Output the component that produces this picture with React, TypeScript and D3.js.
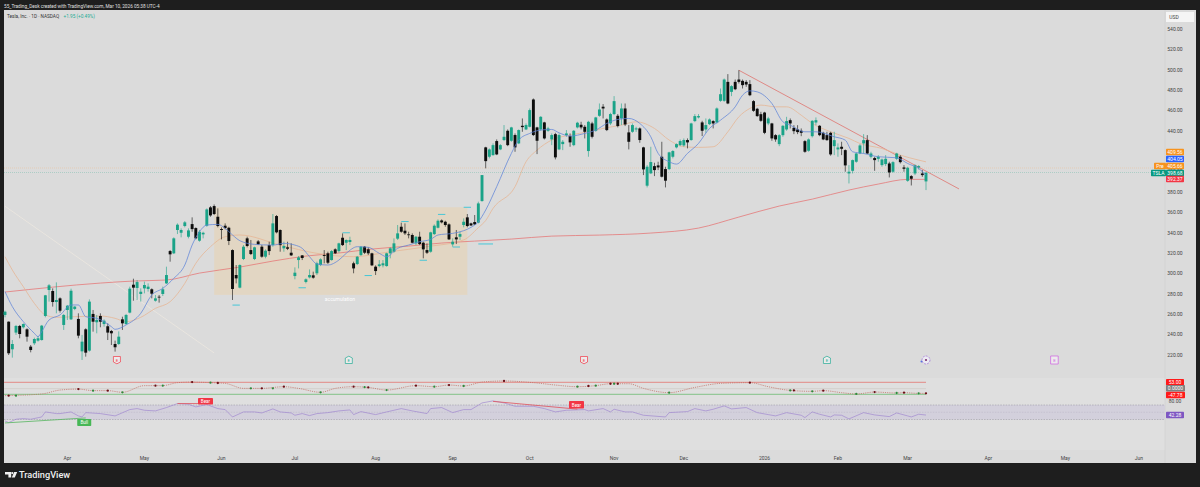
import * as d3 from "d3";

const opens = [
  259.3, 252.7, 225.6, 242, 248.5, 247.2, 245.2, 228.2, 231.5, 234.1,
  234.7, 258.3, 283.8, 282.8, 272, 275.6, 249.5, 264.2, 255, 265.2,
  255.4, 223.6, 245.2, 224.3, 260.3, 252.1, 258.3, 250.4, 248.2, 243.6,
  230.8, 230.8, 255, 250.4, 261.6, 289, 285.8, 279.9, 285.4, 284.8,
  284.5, 273.3, 277.2, 279.9, 290.3, 322, 319.8, 342.7, 340, 346.6,
  336.1, 348.5, 344.6, 332.2, 338.4, 346.9, 364.9, 366.2, 355.7, 343.6,
  346.9, 344.9, 323, 298.5, 286.1, 314.2, 334.5, 323, 314.2, 331.5,
  326.3, 316.5, 327.9, 327.9, 356.4, 342.7, 324.7, 325.7, 320.4, 297.5,
  313.2, 317.8, 291.7, 296.2, 298.2, 300.2, 308.3, 318.1, 319.8, 313.2,
  323.7, 322, 335.1, 330.2, 330.9, 310, 309.3, 318.1, 326.3, 323.7,
  319.8, 306.7, 307.3, 308, 307.3, 319.8, 321.4, 334.2, 345.9, 342,
  338.4, 337.8, 329.6, 336.1, 330.2, 323, 321.4, 338.7, 344.9, 352.1,
  350.8, 348.2, 328.6, 335.5, 336.1, 347.6, 355.1, 349.2, 350.5, 349.9,
  371.1, 423.8, 414.6, 416.2, 430, 421.8, 431, 440.1, 430.3, 435.9,
  427.7, 445, 441.4, 444, 470.8, 443.4, 441.4, 448.3, 440.1, 431.6,
  436.8, 421.8, 427, 435.9, 434.9, 426, 443.4, 446, 444, 420.2,
  447.3, 440.1, 454.8, 463.7, 451.2, 447.3, 456.5, 454.8, 452.2, 462,
  438.5, 439.1, 441.4, 442.4, 423.8, 386.2, 398.3, 405.4, 406.1, 414.6,
  402.5, 402.5, 414.6, 423.8, 426, 425.7, 431, 431, 449.6, 453.2,
  448.3, 441.4, 446.6, 449.6, 448.2, 469.5, 469.5, 488.1, 478.3, 488.1,
  490.4, 489.1, 488.1, 485.9, 469.2, 461.7, 456.4, 458, 447.3, 447.3,
  435.8, 427, 435.8, 441.4, 450.5, 443, 441.4, 440.1, 429.9, 420.5,
  434.8, 448.2, 445, 438.1, 435.8, 438.1, 425, 421.8, 424.4, 421.1,
  398.2, 400.8, 409.7, 417.8, 427.7, 430.9, 414.6, 413.3, 412.6, 406.4,
  407.4, 408, 399.9, 412.6, 414.6, 404.1, 391, 395.6, 398.2, 404.1, 398.2, 390.4,
];
const closes = [
  262.5, 221.7, 230.8, 248.5, 240.6, 250.4, 238, 224.9, 235.7, 236.4,
  248.8, 278.6, 288.4, 272, 274, 263.5, 259.3, 268.4, 283.1, 267.5,
  239, 233.1, 222.3, 272.4, 252.7, 254.4, 252.7, 253.7, 242, 241.3,
  227.6, 238, 251.1, 259.3, 285.1, 286.1, 291.6, 282.1, 288.7, 287.1,
  280.2, 275.6, 276.6, 284.5, 298.5, 318.8, 334.5, 347.9, 342.7, 350.2,
  342.3, 343.6, 334.5, 341, 340, 362.9, 357, 358.4, 346.6, 342.7,
  344.6, 331.9, 284.8, 295.2, 308.3, 326.3, 327, 319.1, 325.7, 328.6,
  316.5, 322.4, 322, 349.2, 340.4, 327.9, 327, 324.3, 317.8, 300.8,
  315.8, 315.2, 294.3, 298.5, 295.9, 310, 313.9, 317.2, 310.6, 322,
  319.8, 329.6, 327.9, 332.9, 332.9, 305, 316.5, 326.3, 320.4, 319.8,
  308, 302.4, 309, 310, 319.8, 324.7, 329.6, 339.4, 341, 339.4,
  337.8, 330.2, 336.1, 328.9, 323.7, 320.4, 340.4, 346.9, 351.8, 350.2,
  347.6, 333.5, 331.2, 333.5, 338.7, 350.8, 346.6, 347.2, 348.2, 368.8,
  396.6, 410.3, 421.8, 426, 416.9, 426, 434.2, 426, 443.4, 423.8,
  440.8, 443.7, 445.7, 460.4, 435.9, 430.3, 453.8, 432.6, 442.4, 435.9,
  414, 435.9, 429.3, 437.5, 428.7, 440.1, 448, 443.4, 439.1, 448.9,
  434.2, 453.2, 461, 462, 440.8, 456.5, 469.2, 444.7, 462, 446.3,
  429.3, 445.7, 442.4, 431, 402.2, 404.8, 409.4, 401.5, 404.1, 395,
  391.1, 418.9, 420.2, 427, 430, 431, 428.7, 447.3, 454.5, 454.5,
  440.1, 445.7, 451.2, 447.3, 462, 476, 490.4, 466.9, 483.9, 480.9,
  488.1, 484.9, 485.5, 475, 459.7, 454.5, 449.9, 438.1, 452.2, 432.6,
  431.6, 435.8, 445, 449.6, 447.3, 439.7, 438.8, 438.1, 419.5, 431.6,
  449.9, 450.5, 435.8, 431.6, 430.9, 416.9, 430.9, 423.7, 422.4, 406.1,
  399.9, 411.3, 417.8, 425.7, 430.9, 417.8, 417.8, 411.3, 414.6, 411.9,
  412.6, 399.2, 409.3, 417.8, 409.3, 402.8, 403.8, 393, 406.1, 405.4, 396.6, 398.9,
];
const highs = [
  263.5, 253, 234.7, 249.5, 249.5, 251, 246.2, 229.8, 237, 238.7,
  249.5, 279, 289.7, 285.4, 291.3, 276.6, 260.3, 269.1, 285.1, 268,
  260.9, 239.7, 246.2, 274.6, 264.2, 259.3, 260.9, 255, 251.1, 244.6,
  234.1, 243.2, 257.6, 260.3, 287.1, 294.9, 293.6, 285.4, 292, 290.3,
  285.4, 278.9, 278.9, 287.1, 306.7, 323, 335.5, 349.2, 344.3, 351.5,
  344.3, 355.1, 345.3, 342.7, 341, 363.9, 366.2, 367.8, 363.9, 345.3,
  349.2, 345.9, 323.7, 308.3, 309, 327.9, 336.1, 332.9, 326.3, 332.9,
  327.9, 323.7, 331.2, 358.4, 357.4, 343.3, 331.2, 331.2, 329.6, 306,
  317.2, 318.1, 295.2, 304, 301.8, 311.6, 314.9, 323, 321.4, 323,
  324.7, 330.2, 339.4, 333.5, 336.1, 311.6, 317.2, 327, 327, 325.7,
  320.4, 308, 313.2, 313.2, 320.4, 325.7, 334.5, 347.6, 349.9, 349.2,
  341, 339.4, 336.8, 341, 331.2, 329.6, 341, 348.2, 353.1, 353.1,
  351.8, 349.2, 334.5, 342.7, 341, 354.1, 358.4, 349.9, 357.4, 370.5,
  396.6, 424.4, 422.8, 427.7, 431.6, 427, 445.7, 441.4, 444, 437.5,
  441.4, 452.2, 447.3, 462, 471.8, 444, 454.5, 448.9, 444, 437.5,
  438.1, 437.5, 431, 440.8, 437.5, 440.8, 448.9, 448.9, 445.7, 449.9,
  448.9, 453.8, 466.9, 466.3, 452.2, 457.8, 474.1, 456.5, 466.9, 466.9,
  445.7, 447.3, 444, 443.4, 424.4, 406.4, 424.4, 408.7, 409.7, 429.3,
  404.8, 419.5, 421.1, 427.7, 431.6, 432.6, 432.6, 448, 456.5, 456.5,
  449.9, 452.2, 452.2, 450.5, 463, 481.6, 491.4, 495.7, 484.9, 490.4,
  499.6, 490.4, 489.8, 489.8, 470.2, 462.6, 458.7, 458.7, 453.8, 447.9,
  436.8, 436.8, 445.6, 453.8, 452.2, 445.6, 445.6, 442.4, 430.9, 432.6,
  450.5, 453.2, 445.6, 439.1, 439.1, 439.1, 439.1, 427.7, 429.3, 421.8,
  406.4, 411.9, 418.5, 427, 436.8, 435.8, 419.5, 414.6, 416.2, 412.9,
  416.2, 409.7, 410.3, 418.5, 416.2, 406.4, 404.8, 396.6, 407.1, 406.4, 401.5, 399.5,
];
const lows = [
  257, 220, 217.4, 239.7, 236.4, 246, 233.1, 222.6, 229.8, 233.1,
  234.1, 257, 272.4, 267.5, 260.9, 261.6, 244.6, 254.4, 254.4, 264,
  236.4, 215.1, 218.4, 223.3, 242.9, 241.3, 247.2, 247.8, 234.7, 229.8,
  223.3, 229.8, 244.6, 249.5, 260.9, 273.3, 274, 272.4, 280.5, 282.2,
  275.6, 272.4, 271.4, 277.9, 289.7, 311.6, 319.1, 338.7, 335.5, 345.3,
  334.5, 341, 333.5, 331.2, 334.5, 345.9, 355.7, 357.4, 345.3, 333.5,
  343.3, 327.9, 274, 290.3, 285.4, 313.2, 325.7, 318.1, 313.2, 327.9,
  315.5, 314.9, 318.1, 326.3, 339.4, 321.4, 321.4, 323, 317.2, 294.3,
  305, 313.2, 290.3, 295.2, 294.9, 298.5, 307.3, 310, 309.3, 312.6,
  319.1, 320.4, 327, 323, 327.9, 300.2, 308.3, 317.2, 319.1, 318.1,
  307.3, 298.5, 306, 306, 306.7, 314.9, 320.4, 332.9, 340, 337.8,
  334.5, 329.6, 327.9, 327.9, 314.9, 319.1, 320.4, 337.8, 344.3, 349.2,
  345.9, 332.9, 326.3, 328.9, 332.9, 345.3, 345.3, 346.6, 347.6, 349.2,
  370.5, 403.2, 413, 415.6, 416.2, 421.1, 430, 425, 429.3, 419.5,
  427, 439.1, 440.8, 443.4, 434.9, 417.2, 440.1, 431.6, 439.1, 426,
  412, 421.1, 421.1, 434.2, 424.4, 425, 442.4, 441.4, 432.6, 414.6,
  432.6, 439.1, 453.8, 452.2, 439.8, 445.7, 455.5, 443.4, 445.7, 444.7,
  421.8, 438.1, 439, 428.3, 396.6, 384.5, 397.6, 395.6, 401.5, 394.3,
  384.5, 401.5, 413, 422.8, 425, 424.4, 422.8, 430.3, 448.6, 452.2,
  434.9, 438.1, 445.7, 442.4, 447.3, 468.5, 468.5, 466.2, 474.1, 480,
  486.5, 481.6, 483.2, 474.1, 458.7, 453.8, 448.9, 436.8, 445.6, 430.3,
  429.3, 425, 434.2, 440.1, 442.4, 436.8, 436.8, 434.8, 418.5, 419.5,
  433.5, 445.6, 434.8, 430.9, 430.3, 415.6, 416.2, 414.6, 416.2, 399.9,
  388.4, 398.2, 408.7, 417.2, 417.8, 417.2, 412.9, 400.8, 409.7, 404.8,
  405.4, 394.3, 398.9, 411.3, 408, 399.9, 390, 386.4, 396.6, 402.1, 394.9, 381.9,
];

// [bar index, value]
const fastEma = [
  [0, 282.2], [2, 267.5], [5, 252.7], [8, 241.3], [9, 238], [10, 242.9], [12, 254.4], [15, 259.3], [18, 269.1], [20, 269.1],
  [22, 257.6], [25, 256], [27, 252.7], [29, 247.8], [30, 245.2], [33, 249.5], [37, 260.9], [40, 278.9], [43, 285.4], [46, 295.2],
  [49, 308.3], [51, 327.9], [53, 341], [55, 347.6], [58, 348.2], [60, 344.3], [62, 337.8], [64, 332.2], [68, 328.6], [73, 327.9],
  [76, 329.6], [79, 327.9], [81, 324.7], [83, 316.5], [85, 309.3], [88, 308.3], [91, 313.2], [93, 319.8], [96, 326.3], [99, 325.7],
  [102, 319.8], [104, 316.5], [107, 324.7], [110, 327.9], [113, 331.2], [116, 333.5], [118, 337.8], [122, 339.4], [125, 342], [127, 345.3],
  [129, 350.8], [131, 362.3], [134, 385.2], [138, 417.9], [140, 431], [143, 437.5], [146, 440.8], [149, 441.4], [151, 438.1], [154, 434.9],
  [158, 437.5], [161, 440.8], [164, 447.3], [167, 451.2], [170, 452.2], [173, 447.3], [176, 434.2], [178, 417.9], [181, 409.7], [183, 407.4],
  [186, 417.9], [189, 427.7], [192, 442.4], [195, 450.5], [199, 463.6], [201, 475], [203, 479.3], [205, 478.3], [209, 466.9], [212, 448.9],
  [214, 445.6], [218, 439.1], [221, 439.1], [226, 434.2], [229, 430.9], [231, 419.5], [234, 417.8], [238, 414.6], [243, 413.6], [246, 408],
  [249, 403.1], [251, 396.6],
];
const midEma = [
  [0, 316.5], [2, 303.4], [5, 287], [8, 270.7], [11, 259.3], [14, 257], [19, 257.6], [26, 258.3], [30, 256], [33, 252.7],
  [37, 257], [41, 265.8], [45, 272.3], [49, 290.3], [52, 310], [56, 326.3], [60, 336.1], [64, 337.8], [75, 327.9], [85, 319.8],
  [95, 316.5], [105, 321.4], [115, 326.3], [125, 333], [129, 345], [131, 352], [133, 363.9], [139, 385.2], [142, 409.7], [145, 421.1],
  [149, 431], [154, 435.9], [159, 439.1], [163, 442.4], [168, 445.7], [172, 448.9], [177, 442.4], [181, 431], [185, 424.4], [189, 423.8],
  [193, 424.4], [197, 439.1], [200, 453.8], [203, 462], [206, 465.3], [210, 463.6], [213, 463.6], [217, 455.4], [220, 447.3], [225, 439.1],
  [230, 432.6], [233, 427.6], [239, 422.7], [244, 416.2], [249, 411.3], [251, 409.6],
];
const slowMa = [
  [0, 281.8], [26, 290.6], [35, 292.6], [44, 293.6], [53, 300.4], [64, 306.3], [73, 312.2], [82, 317.1], [91, 320.1], [100, 324],
  [110, 326.9], [119, 329.9], [128, 331.8], [138, 333.8], [149, 336.7], [162, 337.7], [176, 339.7], [189, 344.6], [200, 355.4], [211, 366.2],
  [220, 373], [230, 381.9], [238, 387.8], [246, 392.4], [251, 392.4],
];

const oscValues = [
  [0, -59], [10, -45], [15, -12], [20, -4], [24, -17], [28, -17], [32, -31], [38, 25], [43, 25], [47, 50],
  [51, 55], [56, 50], [60, 44], [65, 2], [70, 2], [76, 16], [80, 2], [86, -31], [90, 2], [95, 16],
  [99, 10], [104, -12], [112, 25], [117, 16], [121, 30], [125, 22], [130, 55], [136, 64], [144, 50], [150, 30],
  [156, 16], [161, 25], [165, 41], [170, 41], [174, 2], [181, -34], [188, 10], [195, 44], [203, 50], [208, 16],
  [214, -15], [220, -23], [223, -17], [228, -34], [232, -45], [237, -29], [243, -37], [245, -34], [249, -40], [251, -40],
];
const oscRedDots = [
  [1, -59], [20, -4], [28, -17], [41, 25], [51, 55], [58, 47], [70, 2], [76, 16], [95, 16], [99, 10],
  [112, 25], [121, 30], [136, 64], [159, 22], [165, 41], [167, 41], [203, 50], [215, -15], [223, -17], [237, -29], [245, -34], [251, -40],
];
const oscGreenDots = [
  [3, -59], [24, -17], [32, -31], [43, 25], [56, 50], [67, 2], [73, 2], [86, -31], [98, 12], [104, -12],
  [117, 16], [125, 22], [156, 16], [161, 25], [166, 41], [181, -34], [214, -15], [220, -23], [232, -45], [243, -37], [249, -40],
];

const rsiValues = [
  [0, 26], [1, 21.5], [3, 30.7], [5, 32.5], [7, 30.7], [10, 37], [11, 50.9], [14, 46.3], [15, 46.3], [18, 50.9],
  [20, 39.9], [21, 37], [22, 49], [26, 46.3], [30, 39.9], [34, 57.3], [36, 60.1], [38, 55.5], [41, 53.7], [44, 62.9],
  [47, 73.9], [50, 72], [52, 64.7], [55, 71.1], [58, 60.1], [60, 57.3], [62, 37], [65, 50.9], [68, 50.9], [70, 48.1],
  [73, 59.2], [75, 50.9], [78, 48.1], [79, 41.7], [81, 46.3], [83, 40.8], [85, 46.3], [88, 49], [91, 53.7], [94, 56.4],
  [95, 43.5], [97, 51.8], [101, 43.5], [104, 50.9], [108, 60.1], [111, 53.7], [115, 46.3], [116, 60.1], [119, 62.9], [122, 49],
  [125, 57.3], [127, 57.3], [130, 75.7], [133, 81.3], [136, 75.7], [139, 66.5], [144, 66.5], [147, 60.1], [150, 50.9], [153, 55.5],
  [158, 57.3], [159, 53.7], [163, 60.1], [165, 50.9], [166, 58.3], [169, 50.9], [171, 50.9], [174, 41.7], [180, 37], [181, 49],
  [186, 51.8], [188, 60.1], [191, 53.7], [193, 58.3], [196, 67.5], [198, 59.2], [202, 62.9], [205, 49], [208, 43.5], [210, 39.9],
  [213, 49], [217, 41.7], [218, 35.3], [220, 50.9], [222, 44.5], [225, 37.1], [226, 42.6], [228, 41.7], [230, 31.6], [234, 49],
  [237, 42.6], [241, 38], [243, 48.1], [246, 39.9], [247, 37.1], [249, 44.5], [251, 42.28],
];
const bullDivergence = [[0, 20.5], [22, 34.3]];
const bearDivergences = [
  [[47, 74], [53, 74]],
  [[133, 80], [156, 58.5]],
];

const priceTicks = d3.range(220, 541, 20);
const timeLabels = ["Apr", "May", "Jun", "Jul", "Aug", "Sep", "Oct", "Nov", "Dec", "2026", "Feb", "Mar", "Apr", "May", "Jun"];
const timeBars = [17, 38, 59, 79, 101, 122, 143, 166, 185, 207, 227, 246, 268, 289, 309];

const accumulationBox = { from: 57, to: 126, top: 365, bottom: 279 };
const downTrend = [[200, 499.5], [260, 383]];
const fadedTrend = [[0, 366], [57, 222]];

// swing markers: start bar, end bar, price
const swingMarks = [
  [62, 64, 269], [80, 82, 286], [92, 94, 340], [98, 100, 298], [108, 110, 351], [113, 115, 313],
  [118, 120, 358], [122, 124, 326], [125, 127, 365], [129, 133, 329],
];

const events = [
  { bar: 30.5, letter: "E", color: "#f23645", kind: "down" },
  { bar: 93.7, letter: "E", color: "#22ab94", kind: "up" },
  { bar: 157.8, letter: "E", color: "#f23645", kind: "down" },
  { bar: 224, letter: "E", color: "#22ab94", kind: "up" },
  { bar: 286, letter: "E", color: "#d05ce3", kind: "square" },
];

const priceTags = [
  { value: "409.56", y: 152, color: "#f7931e" },
  { value: "404.05", y: 159, color: "#2962ff" },
  { value: "405.66", y: 166, color: "#f7931e" },
  { value: "398.68", y: 173, color: "#089981" },
  { value: "392.37", y: 179, color: "#f23645" },
];

const FONT = "Roboto, 'Liberation Sans', sans-serif";
const UP = "#1aa388";
const DOWN = "#0d0d0d";

const x = d3.scaleLinear().domain([0, 251]).range([5, 926]);
const y = d3.scaleLinear().domain([220, 540]).range([355, 29]);
const oscY = d3.scaleLinear().domain([-47.78, 53]).range([394.3, 382.3]);
const rsiY = d3.scaleLinear().domain([30, 70]).range([419.5, 405]);

const lineOf = (scale: (v: number) => number) =>
  d3.line<number[]>().x((d) => x(d[0])).y((d) => scale(d[1])).curve(d3.curveMonotoneX);

const Tag = ({ tagY, text, fill, x0 = 1166, w = 18 }: any) => (
  <g>
    <rect x={x0} y={tagY - 3.2} width={w} height={6.4} rx={0.8} fill={fill} />
    <text x={x0 + w / 2} y={tagY + 1.8} fontSize={5} fill="#fff" textAnchor="middle">{text}</text>
  </g>
);

export default function App() {
  const priceLine = lineOf(y);
  const rsiLine = d3.line<number[]>().x((d) => x(d[0])).y((d) => rsiY(d[1]));
  return (
    <svg width={1200} height={487} viewBox="0 0 1200 487" fontFamily={FONT} style={{ position: "fixed", left: 0, top: 0 }}>
      <rect width={1200} height={487} fill="#1e1e1e" />
      <text x={4} y={7.5} fontSize={4.7} fill="#e0e0e0">55_Trading_Desk created with TradingView.com, Mar 10, 2026 05:38 UTC-4</text>
      <rect x={4} y={10} width={1192} height={453} fill="#dbdbdb" />

      {/* panes */}
      <rect x={4} y={378} width={1161} height={22} fill="#dfdfdf" />
      <rect x={4} y={400} width={1161} height={50} fill="#dfdfdf" />
      <line x1={1165} x2={1165} y1={10} y2={463} stroke="#d2d2d2" strokeWidth={0.6} />

      {/* text legend */}
      <text x={7} y={18} fontSize={4.7} fill="#333">Tesla, Inc. · 1D · NASDAQ</text>
      <text x={63.5} y={18} fontSize={4.7} fill="#22ab94">+1.95 (+0.49%)</text>

      {/* price levels */}
      <line x1={4} x2={1165} y1={168} y2={168} stroke="#e8b98c" strokeWidth={0.5} strokeDasharray="1 1" />
      <line x1={4} x2={1165} y1={172.5} y2={172.5} stroke="#7fbfb0" strokeWidth={0.5} strokeDasharray="1 1" />

      {/* accumulation box */}
      <rect
        x={x(accumulationBox.from)}
        y={y(accumulationBox.top)}
        width={x(accumulationBox.to) - x(accumulationBox.from)}
        height={y(accumulationBox.bottom) - y(accumulationBox.top)}
        fill="#e2d6c3"
      />
      <text x={340} y={300.5} fontSize={5} fill="#fff" textAnchor="middle">accumulation</text>

      {/* trend lines */}
      <path d={d3.line()(fadedTrend.map((d) => [x(d[0]), y(d[1])]) as any) ?? ""} stroke="#ece7e0" strokeWidth={0.8} fill="none" />
      <path d={d3.line()(downTrend.map((d) => [x(d[0]), y(d[1])]) as any) ?? ""} stroke="#e0736f" strokeWidth={0.8} fill="none" />

      {/* moving averages behind candles */}
      <path d={priceLine(slowMa as any) ?? ""} fill="none" stroke="#e57373" strokeWidth={0.75} />
      <path d={priceLine(midEma as any) ?? ""} fill="none" stroke="#e6b696" strokeWidth={0.8} />

      {/* candles */}
      {opens.map((o, i) => {
        const c = closes[i];
        const color = c >= o ? UP : DOWN;
        const top = y(Math.max(o, c));
        const bottom = y(Math.min(o, c));
        return (
          <g key={i}>
            <line x1={x(i)} x2={x(i)} y1={y(highs[i])} y2={y(lows[i])} stroke={color} strokeWidth={0.6} />
            <rect x={x(i) - 1.45} y={top} width={2.9} height={Math.max(bottom - top, 0.8)} fill={color} />
          </g>
        );
      })}
      <path d={priceLine(fastEma as any) ?? ""} fill="none" stroke="#5f84d8" strokeWidth={0.75} />

      {/* swing markers */}
      {swingMarks.map((m, i) => (
        <line key={i} x1={x(m[0])} x2={x(m[1])} y1={y(m[2])} y2={y(m[2])} stroke="#35c4d8" strokeWidth={0.9} />
      ))}

      {/* event badges */}
      {events.map((e, i) => {
        const cx = x(e.bar);
        const pts =
          e.kind === "down"
            ? `${cx - 3.5},356.5 ${cx + 3.5},356.5 ${cx + 3.5},362 ${cx},363.8 ${cx - 3.5},362`
            : e.kind === "up"
            ? `${cx - 3.5},363.5 ${cx + 3.5},363.5 ${cx + 3.5},358 ${cx},356.2 ${cx - 3.5},358`
            : `${cx - 3.8},356 ${cx + 3.8},356 ${cx + 3.8},364 ${cx - 3.8},364`;
        return (
          <g key={i}>
            <polygon points={pts} fill="#ecebec" stroke={e.color} strokeWidth={0.7} strokeLinejoin="round" />
            <text x={cx} y={361.8} fontSize={4.4} fill={e.color} textAnchor="middle">{e.letter}</text>
          </g>
        );
      })}
      <circle cx={x(251)} cy={360} r={4} fill="#ecebf2" stroke="#9c6fd6" strokeWidth={0.7} strokeDasharray="2 1" />
      <circle cx={x(251)} cy={360} r={1.1} fill="#7a2f6f" />
      <circle cx={x(251) - 4.5} cy={361.5} r={1} fill="#5a6fe0" />

      {/* oscillator */}
      <line x1={4} x2={x(251)} y1={oscY(53)} y2={oscY(53)} stroke="#e5736f" strokeWidth={0.8} />
      <line x1={4} x2={x(251)} y1={oscY(0)} y2={oscY(0)} stroke="#c9c2bc" strokeWidth={0.5} />
      <line x1={4} x2={x(251)} y1={oscY(-47.78)} y2={oscY(-47.78)} stroke="#6cbb72" strokeWidth={0.8} />
      <path d={lineOf(oscY)(oscValues as any) ?? ""} fill="none" stroke="#c0685e" strokeWidth={0.7} strokeDasharray="1.2 1" />
      {oscGreenDots.map((d, i) => <circle key={i} cx={x(d[0])} cy={oscY(d[1])} r={1.15} fill="#2e8b3d" />)}
      {oscRedDots.map((d, i) => <circle key={i} cx={x(d[0])} cy={oscY(d[1])} r={1.15} fill="#6b0f17" />)}

      {/* rsi */}
      <rect x={4} y={rsiY(70)} width={1161} height={rsiY(30) - rsiY(70)} fill="#d3d0dc" />
      {[70, 50, 30].map((v) => (
        <line key={v} x1={4} x2={1165} y1={rsiY(v)} y2={rsiY(v)} stroke={v === 50 ? "#b9b5c4" : "#8f8c98"} strokeWidth={0.5} strokeDasharray="1.5 1.2" />
      ))}
      <path d={rsiLine(rsiValues as any) ?? ""} fill="none" stroke="#9d84cf" strokeWidth={0.65} />
      <path d={rsiLine(bullDivergence as any) ?? ""} fill="none" stroke="#57b560" strokeWidth={0.8} />
      {bearDivergences.map((b, i) => (
        <path key={i} d={rsiLine(b as any) ?? ""} fill="none" stroke="#e0505c" strokeWidth={0.8} />
      ))}
      <rect x={x(22) - 8.5} y={419} width={14} height={7} fill="#46b755" rx={0.8} />
      <text x={x(22) - 1.5} y={424.2} fontSize={4.6} fill="#fff" textAnchor="middle">Bull</text>
      <rect x={198} y={398} width={15} height={6.5} fill="#f23645" rx={0.8} />
      <text x={205.5} y={403} fontSize={4.6} fill="#fff" textAnchor="middle">Bear</text>
      <rect x={569} y={401} width={15} height={7.5} fill="#f23645" rx={0.8} />
      <text x={576.5} y={406.5} fontSize={4.6} fill="#fff" textAnchor="middle">Bear</text>

      {/* time axis */}
      {timeLabels.map((t, i) => (
        <text key={i} x={x(timeBars[i])} y={459.5} fontSize={5} fill="#444" textAnchor="middle">{t}</text>
      ))}

      {/* price axis */}
      {priceTicks.map((p) => (
        <text key={p} x={1175} y={y(p) + 1.8} fontSize={5} fill="#444" textAnchor="middle">{p.toFixed(2)}</text>
      ))}
      <text x={1175} y={403} fontSize={5} fill="#444" textAnchor="middle">80.00</text>
      <rect x={1166} y={12} width={28} height={10} fill="#f5f5f5" />
      <text x={1174} y={19} fontSize={5} fill="#444" textAnchor="middle">USD</text>

      {priceTags.map((t) => <Tag key={t.value} tagY={t.y} text={t.value} fill={t.color} />)}
      <Tag tagY={166} text="Pre" fill="#f7931e" x0={1154} w={12} />
      <Tag tagY={173} text="TSLA" fill="#089981" x0={1151} w={15} />
      <Tag tagY={382.3} text="53.00" fill="#ff1a1a" />
      <Tag tagY={388.3} text="0.0000" fill="#808080" w={19} />
      <Tag tagY={395} text="-47.78" fill="#ff1a1a" w={19} />
      <Tag tagY={415} text="42.28" fill="#7e57c2" />

      {/* logo */}
      <g fill="#f0f0f0">
        <path d="M5 472h6.2v5.4H8.4v-2.9H5z" />
        <circle cx={12.3} cy={473.1} r={1.1} />
        <path d="M14.2 472h3l-2.4 5.4h-3z" />
      </g>
      <text x={19} y={478} fontSize={9.2} fontWeight={500} fill="#f0f0f0">TradingView</text>
    </svg>
  );
}
